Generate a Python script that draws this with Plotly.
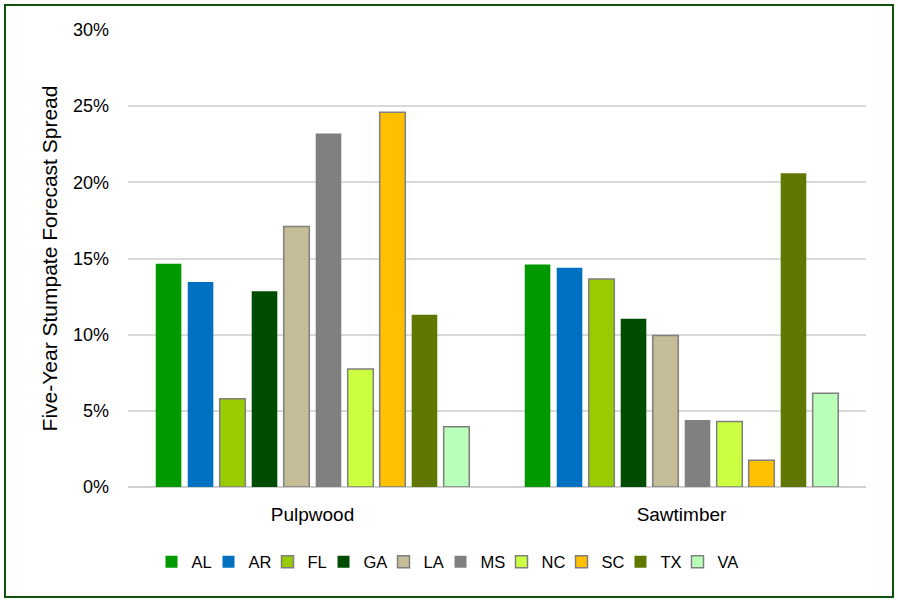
import plotly.graph_objects as go

categories = ["Pulpwood", "Sawtimber"]
states = ["AL", "AR", "FL", "GA", "LA", "MS", "NC", "SC", "TX", "VA"]
pulpwood = [14.65, 13.45, 5.8, 12.85, 17.1, 23.2, 7.75, 24.6, 11.3, 3.95]
sawtimber = [14.6, 14.4, 13.65, 11.05, 9.95, 4.4, 4.3, 1.75, 20.6, 6.15]
colors = ["#009900", "#0070C0", "#99CC00", "#004C00", "#C4BD97",
          "#808080", "#CCFF42", "#FFC000", "#607800", "#B9FFB9"]
bordered = [False, False, True, False, True, False, True, True, False, True]
legend_widths = [12, 14, 11, 15, 12, 16, 15, 14, 12, 24]

W, H = 898, 602
L, R, T, B = 128, 866, 30, 487

fig = go.Figure()
for i, s in enumerate(states):
    fig.add_trace(go.Bar(
        name=s, x=categories, y=[pulpwood[i] / 100, sawtimber[i] / 100],
        legendwidth=legend_widths[i],
        marker=dict(color=colors[i],
                    line=dict(color="#7F7F7F" if bordered[i] else colors[i],
                              width=1.5 if bordered[i] else 0)),
    ))

pw, ph = R - L, B - T
fig.add_shape(type="rect", xref="paper", yref="paper",
              x0=(5 - L) / pw, x1=(893 - L) / pw,
              y0=(B - 597) / ph, y1=(B - 5) / ph,
              line=dict(color="#0E520E", width=2), fillcolor="rgba(0,0,0,0)",
              layer="below")

fam = "Liberation Sans, Arial, sans-serif"
tick_font = dict(family=fam, size=18, color="#000000")
cat_font = dict(family=fam, size=19, color="#000000")
title_font = dict(family=fam, size=21, color="#000000")
leg_font = dict(family=fam, size=16.5, color="#000000")

fig.update_layout(
    width=W, height=H,
    margin=dict(l=L, r=W - R, t=T, b=H - B),
    paper_bgcolor="white", plot_bgcolor="white",
    font=tick_font,
    barmode="group", bargap=0.133, bargroupgap=0.2,
    showlegend=True,
    legend=dict(orientation="h", xref="container", x=0.5, xanchor="center",
                yref="container", y=(H - 562) / H, yanchor="middle",
                font=leg_font, traceorder="normal"),
    xaxis=dict(showgrid=False, showline=False, ticks="", ticklabelstandoff=14,
               tickfont=cat_font),
    yaxis=dict(range=[0, 0.30], dtick=0.05, tickformat=".0%",
               gridcolor="#D9D9D9", gridwidth=1.6,
               zeroline=True, zerolinecolor="#D0D0D0", zerolinewidth=2,
               showline=False, ticks="", ticklabelstandoff=18,
               tickfont=tick_font,
               title=dict(text="Five-Year Stumpate Forecast Spread", font=title_font,
                          standoff=9)),
)

fig.write_html("out.html", config={"displayModeBar": False},
               post_script="document.body.style.margin='0';document.body.style.padding='0';")
